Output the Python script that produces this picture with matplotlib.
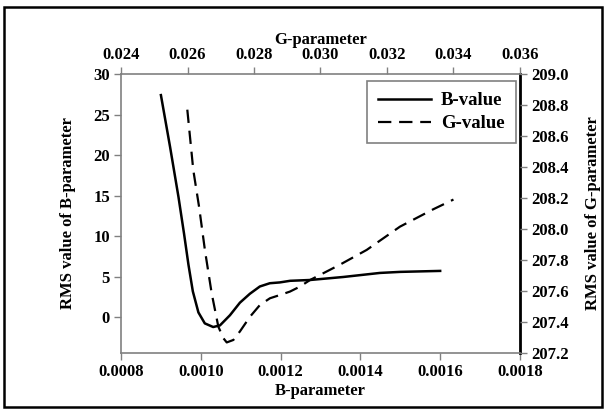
import matplotlib
matplotlib.use("Agg")
import matplotlib.pyplot as plt
from matplotlib.patches import Rectangle

plt.rcParams['font.family'] = ['Liberation Serif', 'DejaVu Serif']
plt.rcParams['font.weight'] = 'bold'
plt.rcParams['axes.labelweight'] = 'bold'
plt.rcParams['font.size'] = 12

# B-value curve (bottom / left axes)
b_param = [0.000900, 0.000923, 0.000944, 0.000958, 0.000969, 0.000980, 0.000994,
           0.001010, 0.001031, 0.001048, 0.001073, 0.001098, 0.001123, 0.001148,
           0.001173, 0.001198, 0.001224, 0.001274, 0.001357, 0.001449, 0.00150,
           0.00160]
b_rms = [27.4, 21.0, 14.85, 10.3, 6.5, 3.2, 0.6,
         -0.75, -1.2, -1.0, 0.25, 1.8, 2.9, 3.8,
         4.2, 4.3, 4.5, 4.6, 4.97, 5.47, 5.6,
         5.72]

# G-value curve (top / right axes)
g_param = [0.025994, 0.026174, 0.026350, 0.026526, 0.026727, 0.026927, 0.02708,
           0.02718, 0.02738, 0.02758, 0.02788, 0.02818, 0.02848, 0.02878,
           0.02908, 0.02938, 0.02968, 0.030587, 0.03139, 0.03239, 0.03339,
           0.0340]
g_rms = [208.77, 208.38, 208.14, 207.86, 207.585, 207.37, 207.295,
         207.268, 207.284, 207.34, 207.434, 207.51, 207.553, 207.574,
         207.596, 207.628, 207.67, 207.77, 207.865, 208.015, 208.127,
         208.19]

b_ticks = [0.0008, 0.0010, 0.0012, 0.0014, 0.0016, 0.0018]
g_ticks = [0.024, 0.026, 0.028, 0.030, 0.032, 0.034, 0.036]
left_ticks = [0, 5, 10, 15, 20, 25, 30]
right_ticks = [207.2, 207.4, 207.6, 207.8, 208.0, 208.2, 208.4, 208.6, 208.8, 209.0]

gray = '#808080'

fig = plt.figure(figsize=(6.06, 4.09), dpi=100)
pos = [0.1997, 0.137, 0.6583, 0.682]
ax = fig.add_axes(pos)
ax2 = fig.add_axes(pos, frameon=False)

l1, = ax.plot(b_param, b_rms, color='black', lw=1.8, label='B-value')
l2, = ax2.plot(g_param, g_rms, color='black', lw=1.6, dashes=(6, 3.5), label='G-value')

ax.set_xlim(0.0008, 0.0018)
ax.set_ylim(-4.4, 30)
ax.set_xticks(b_ticks)
ax.set_xticklabels(['%.4f' % t for t in b_ticks])
ax.set_yticks(left_ticks)
ax.set_xlabel('B-parameter', labelpad=2)
ax.set_ylabel('RMS value of B-parameter', labelpad=12)

ax2.set_xlim(0.024, 0.036)
ax2.set_ylim(207.2, 209.0)
ax2.xaxis.tick_top()
ax2.xaxis.set_label_position('top')
ax2.yaxis.tick_right()
ax2.yaxis.set_label_position('right')
ax2.set_xticks(g_ticks)
ax2.set_xticklabels(['%.3f' % t for t in g_ticks])
ax2.set_yticks(right_ticks)
ax2.set_yticklabels(['%.1f' % t for t in right_ticks])
ax2.set_xlabel('G-parameter', labelpad=2)
ax2.set_ylabel('RMS value of G-parameter', labelpad=12)

for s in ['left', 'bottom', 'top']:
    ax.spines[s].set_color(gray)
    ax.spines[s].set_linewidth(1.2)
ax.spines['right'].set_color('black')
ax.spines['right'].set_linewidth(2)
ax.tick_params(direction='out', length=5, width=1, color=gray, pad=3)
ax2.tick_params(direction='out', length=5, width=1, color=gray, pad=3)

leg = ax2.legend(handles=[l1, l2], loc='upper right', bbox_to_anchor=(0.99, 0.975),
                 borderaxespad=0, fontsize=13.5, fancybox=False, framealpha=1,
                 edgecolor=gray, handlelength=2.8, borderpad=0.6,
                 labelspacing=0.3, handletextpad=0.55)
leg.get_frame().set_linewidth(1.2)

fig.patches.append(Rectangle((0.006, 0.006), 0.988, 0.976, transform=fig.transFigure,
                             fill=False, edgecolor='black', lw=1.8))

fig.savefig('out.png', dpi=100)
